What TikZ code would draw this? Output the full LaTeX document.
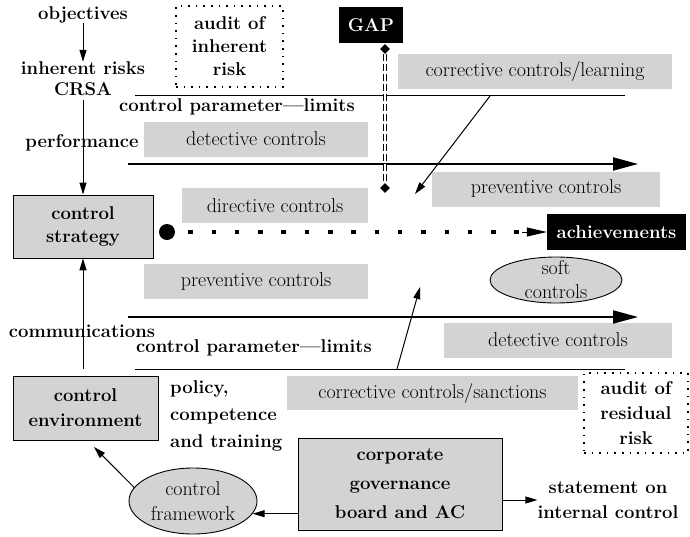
\documentclass[tikz,border=0pt]{standalone}
\usepackage{fontspec}
\usetikzlibrary{arrows.meta,shapes.geometric}
\definecolor{gfill}{RGB}{211,211,211}
\begin{document}
\begin{tikzpicture}[x=1pt,y=-1pt,
  every node/.style={inner sep=0pt, font=\fontsize{20}{23}\selectfont},
  lbl/.style={font=\fontsize{18.5}{23}\selectfont\bfseries, align=center},
  gbox/.style={fill=gfill, minimum height=35pt},
  sbox/.style={draw, fill=gfill, line width=0.9pt, align=center},
  dbox/.style={draw, line width=1.6pt, dash pattern=on 1.6pt off 6pt, align=center},
  ell/.style={ellipse, draw, fill=gfill, line width=0.9pt, align=center},
  arr/.style={-{Triangle[length=12pt,width=7pt]}, line width=1pt},
  tarr/.style={-{Triangle[length=25pt,width=13pt]}, line width=2pt},
  thinline/.style={line width=1pt},
]
\useasboundingbox (0,0) rectangle (690,536);

% grey control boxes
\node[gbox, minimum width=274pt] (ccl) at (535,71.5) {corrective controls/learning};
\node[gbox, minimum width=224pt] (dc1) at (256,139) {detective controls};
\node[gbox, minimum width=228pt] (pc1) at (546,189) {preventive controls};
\node[gbox, minimum width=186pt] (dir) at (275,205.5) {directive controls};
\node[gbox, minimum width=224pt] (pc2) at (256,281.5) {preventive controls};
\node[gbox, minimum width=228pt] (dc2) at (558,340) {detective controls};
\node[gbox, minimum width=291pt, minimum height=34pt] (ccs) at (432.5,393) {corrective controls/sanctions};

% framed boxes
\node[sbox, minimum width=140pt, minimum height=63pt, font=\fontsize{18.5}{23}\selectfont\bfseries] (cs) at (83,226.5) {control\\strategy};
\node[sbox, minimum width=145pt, minimum height=64pt, font=\fontsize{18.5}{25}\selectfont\bfseries] (ce) at (85.5,408) {control\\environment};
\node[sbox, minimum width=204pt, minimum height=92pt, font=\fontsize{18.5}{29}\selectfont\bfseries] (cg) at (400,484) {corporate\\governance\\board and AC};

% dotted boxes
\node[dbox, minimum width=107pt, minimum height=81pt, font=\fontsize{18.5}{23}\selectfont\bfseries] (air) at (229.5,46.5) {audit of\\inherent\\risk};
\node[dbox, minimum width=104pt, minimum height=80pt, font=\fontsize{18.5}{25}\selectfont\bfseries] (arr2) at (636,413) {audit of\\residual\\risk};

% black boxes
\node[fill=black, text=white, lbl, minimum width=64pt, minimum height=36pt] (gap) at (371,25) {GAP};
\node[fill=black, text=white, lbl, minimum width=139pt, minimum height=36pt] (ach) at (616.5,232) {achievements};

% ellipses
\node[ell, minimum width=132pt, minimum height=46pt, inner ysep=-10pt, font=\fontsize{20}{24}\selectfont] (soft) at (556,280) {soft\\controls};
\node[ell, minimum width=128pt, minimum height=66pt, inner xsep=-2pt, font=\fontsize{20}{25}\selectfont] (cf) at (193,501) {control\\framework};

% labels
\node[lbl] (obj) at (83,15) {objectives};
\node[lbl, font=\fontsize{18.5}{21}\selectfont\bfseries] (ir) at (83,79) {inherent risks\\CRSA};
\node[lbl] (cpl1) at (237,107) {control parameter—limits};
\node[lbl] (cpl2) at (254,348) {control parameter—limits};
\node[lbl, align=left, anchor=west, font=\fontsize{18.5}{27}\selectfont\bfseries] (pol) at (170,416) {policy,\\competence\\and training};
\node[lbl, font=\fontsize{18.5}{25}\selectfont\bfseries] (stmt) at (608,500) {statement on\\internal control};

% coordinates for free line ends
\coordinate (t1a) at (135,95);
\coordinate (t1b) at (625,95);
\coordinate (k1a) at (128,164);
\coordinate (k1b) at (638,164);
\coordinate (k2a) at (128,317);
\coordinate (k2b) at (638,317);
\coordinate (t2a) at (135,369);
\coordinate (t2b) at (625,369);
\coordinate (c1a) at (490,96);
\coordinate (c1b) at (415,194);
\coordinate (c2a) at (397,369);
\coordinate (c2b) at (420,287);
\coordinate (cetip) at (94,447);
\coordinate (dend) at (522,232);

% left spine
\draw[arr] (obj.south) -- (obj.south |- ir.north);
\draw[arr, shorten <=4pt] (ir.south) -- (cs.north);
\draw[arr, shorten <=7pt] (cs.south |- ce.north) -- (cs.south);
\node[lbl] (perf) at (82,143) {performance};
\node[lbl] (comm) at (82,331) {communications};

% limit lines and flows
\draw[thinline] (t1a) -- (t1b);
\draw[thinline] (t2a) -- (t2b);
\draw[tarr] (k1a) -- (k1b);
\draw[tarr] (k2a) -- (k2b);
\draw[arr] (c1a) -- (c1b);
\draw[arr] (c2a) -- (c2b);

% GAP marker
\node[diamond, fill, minimum size=10pt] (g1) at (385,49) {};
\node[diamond, fill, minimum size=10pt] (g2) at (385,188) {};
\draw[double, double distance=2pt, line width=0.7pt, dash pattern=on 7pt off 3pt] (g1) -- (g2);

% strategy to achievements
\node[circle, fill, minimum size=16pt] (dot) at (167,232) {};
\draw[line width=4.5pt, dash pattern=on 4.5pt off 18.8pt, shorten <=13pt] (dot) -- (dend);
\draw[-{Triangle[length=20pt,width=9pt]}, line width=1pt] (dend) -- (ach.west);

% bottom connectors
\draw[arr] (cf.167) -- (cetip);
\draw[arr] (cg.west |- cf.-12) -- (cf.-12);
\draw[arr] (cg.east |- stmt.west) -- (stmt.west);
\end{tikzpicture}
\end{document}
